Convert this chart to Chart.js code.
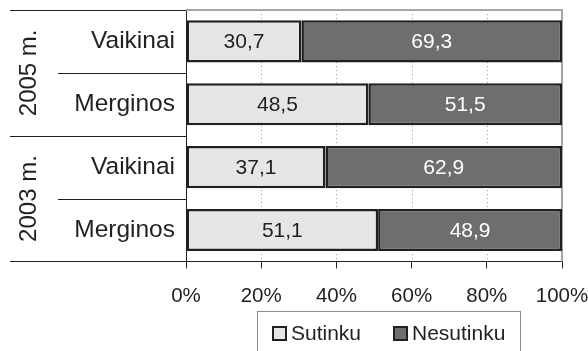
<!DOCTYPE html>
<html>
<head>
<meta charset="utf-8">
<script src="https://cdn.jsdelivr.net/npm/chart.js@4"></script>
<style>
  html, body { margin: 0; padding: 0; background: #fff; }
  canvas { display: block; }
</style>
</head>
<body>
<canvas id="chart" width="588" height="351"></canvas>
<script>
// data
const categories = ['Vaikinai', 'Merginos', 'Vaikinai', 'Merginos'];
const years = ['2005 m.', '2003 m.'];
const sutinku = [30.7, 48.5, 37.1, 51.1];
const nesutinku = [69.3, 51.5, 62.9, 48.9];
const xTicks = [0, 20, 40, 60, 80, 100];
const seriesNames = ['Sutinku', 'Nesutinku'];

const FONT = "'Liberation Sans', Arial, sans-serif";
const INK = '#231f20';
const LIGHT = '#e6e6e8';
const DARK = '#6d6e70';

// draws the left label table, dotted grid, frame, value labels and the legend
const decor = {
  id: 'decor',
  beforeDatasetsDraw(chart) {
    const { ctx, chartArea: a, scales: { x } } = chart;
    ctx.save();
    ctx.strokeStyle = '#9a9a9a';
    ctx.lineWidth = 1;
    ctx.setLineDash([1, 3]);
    xTicks.slice(1, -1).forEach(t => {
      const px = Math.round(x.getPixelForValue(t)) + 0.5;
      ctx.beginPath(); ctx.moveTo(px, a.top); ctx.lineTo(px, a.bottom); ctx.stroke();
    });
    ctx.setLineDash([]);
    ctx.strokeStyle = '#a6a6a6';
    ctx.lineWidth = 2;
    ctx.beginPath();
    ctx.moveTo(a.left, a.top); ctx.lineTo(a.right, a.top); ctx.lineTo(a.right, a.bottom);
    ctx.stroke();
    ctx.restore();
  },
  afterDraw(chart) {
    const { ctx, chartArea: a, scales: { y } } = chart;
    const bound = i => (y.getPixelForValue(i) + y.getPixelForValue(i + 1)) / 2;
    ctx.save();
    ctx.strokeStyle = INK;
    ctx.lineWidth = 1;
    const lines = [
      [a.top, 10], [bound(0), 58], [bound(1), 10], [bound(2), 58], [a.bottom, 10]
    ];
    lines.forEach(([py, x0]) => {
      const yy = Math.round(py) + 0.5;
      ctx.beginPath(); ctx.moveTo(x0, yy); ctx.lineTo(a.left, yy); ctx.stroke();
    });

    // year labels
    ctx.fillStyle = INK;
    ctx.font = '24px ' + FONT;
    ctx.textAlign = 'center';
    ctx.textBaseline = 'middle';
    years.forEach((yr, g) => {
      const top = g === 0 ? a.top : bound(1);
      const bot = g === 0 ? bound(1) : a.bottom;
      ctx.save();
      ctx.translate(29, (top + bot) / 2);
      ctx.rotate(-Math.PI / 2);
      ctx.fillText(yr, 0, 0);
      ctx.restore();
    });

    // values inside bars
    ctx.font = '21px ' + FONT;
    chart.data.datasets.forEach((ds, di) => {
      chart.getDatasetMeta(di).data.forEach((bar, i) => {
        const cx = (bar.x + bar.base) / 2;
        ctx.fillStyle = di === 0 ? INK : '#ffffff';
        ctx.fillText(ds.data[i].toFixed(1).replace('.', ','), cx, bar.y + 1);
      });
    });

    // legend
    ctx.strokeStyle = '#8c8c8c';
    ctx.lineWidth = 1;
    ctx.strokeRect(257.5, 311.5, 263, 45);
    const items = [[272, seriesNames[0], LIGHT], [393, seriesNames[1], DARK]];
    ctx.textAlign = 'left';
    ctx.font = '21px ' + FONT;
    items.forEach(([lx, label, fill]) => {
      ctx.fillStyle = fill;
      ctx.fillRect(lx, 326, 15, 15);
      ctx.strokeStyle = INK;
      ctx.lineWidth = 2;
      ctx.strokeRect(lx + 1, 327, 13, 13);
      ctx.fillStyle = INK;
      ctx.fillText(label, lx + 19, 334);
    });
    ctx.restore();
  }
};

new Chart(document.getElementById('chart'), {
  type: 'bar',
  data: {
    labels: categories,
    datasets: [
      { label: seriesNames[0], data: sutinku, backgroundColor: LIGHT },
      { label: seriesNames[1], data: nesutinku, backgroundColor: DARK }
    ].map(d => ({
      ...d,
      borderColor: INK,
      borderWidth: 2.5,
      borderSkipped: false,
      categoryPercentage: 1,
      barPercentage: 0.67
    }))
  },
  options: {
    indexAxis: 'y',
    responsive: false,
    animation: false,
    layout: { padding: { left: 10, top: 10, right: 26, bottom: 26 } },
    plugins: { legend: { display: false }, tooltip: { enabled: false } },
    scales: {
      x: {
        stacked: true,
        min: 0,
        max: 100,
        afterBuildTicks: s => { s.ticks = xTicks.map(v => ({ value: v })); },
        afterFit: s => { s.paddingLeft = 0; s.paddingRight = 0; },
        ticks: {
          callback: v => v + '%',
          font: { family: FONT, size: 20.5 },
          color: INK,
          padding: 16,
          maxRotation: 0
        },
        grid: { drawOnChartArea: false, tickLength: 7, tickColor: INK, tickWidth: 1 },
        border: { color: INK, width: 1 }
      },
      y: {
        stacked: true,
        offset: true,
        afterFit: s => { s.width = 176; s.paddingTop = 0; s.paddingBottom = 0; },
        ticks: {
          font: { family: FONT, size: 24.5 },
          color: INK,
          padding: 11
        },
        grid: { display: true, drawOnChartArea: false, drawTicks: false },
        border: { color: INK, width: 1 }
      }
    }
  },
  plugins: [decor]
});
</script>
</body>
</html>
